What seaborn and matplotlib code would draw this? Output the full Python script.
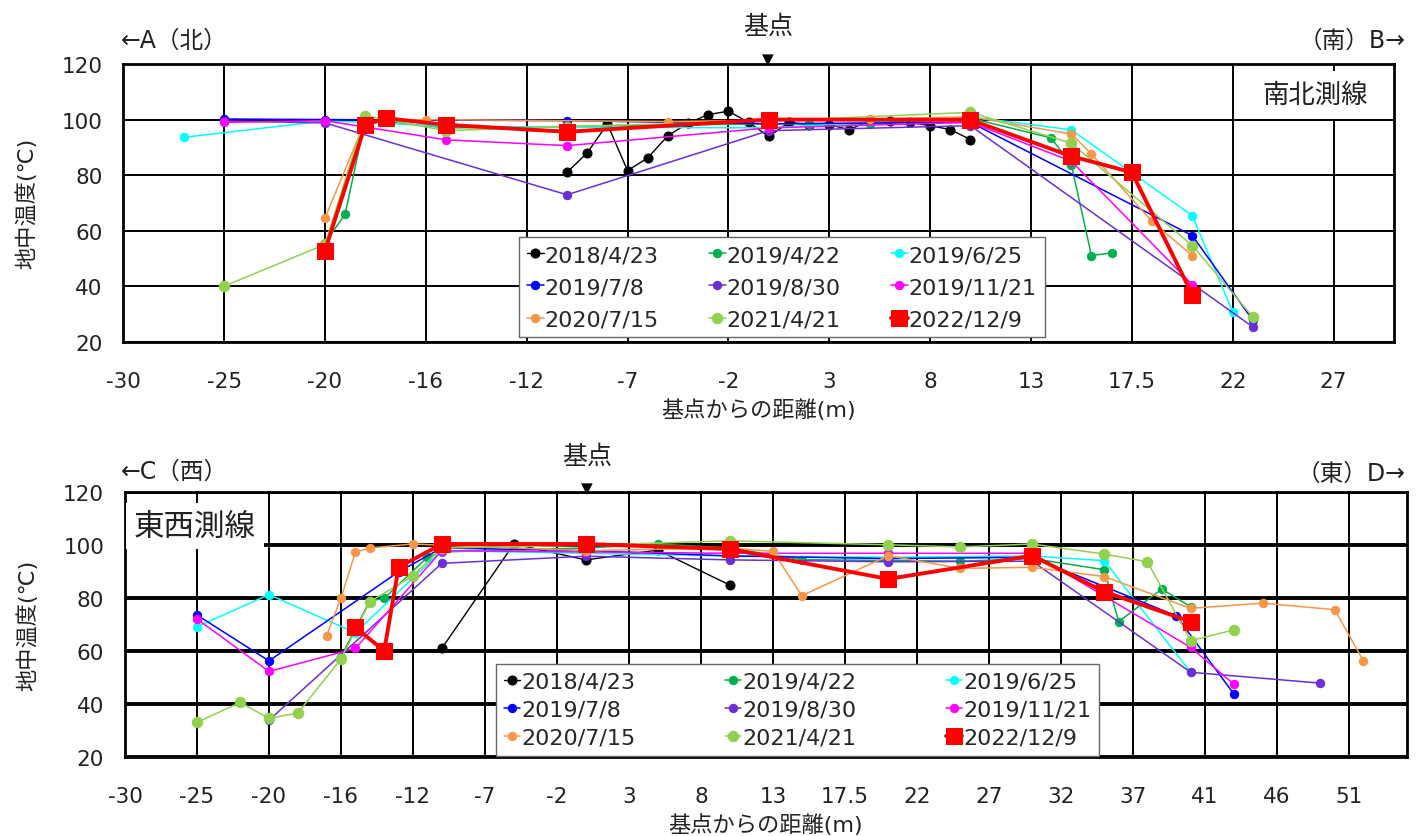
import matplotlib
matplotlib.use("Agg")
import matplotlib.pyplot as plt
import seaborn as sns

# 凡例(日付)と色
dates = ["2018/4/23", "2019/4/22", "2019/6/25", "2019/7/8", "2019/8/30",
         "2019/11/21", "2020/7/15", "2021/4/21", "2022/12/9"]
colors = ["#000000", "#00B050", "#00FFFF", "#0000FF", "#6A2FD6",
          "#FF00FF", "#F79646", "#92D050", "#FF0000"]

# 目盛りラベル (目盛り位置は 5 刻み、ラベルは図のとおり)
ns_ticklabels = ["-30", "-25", "-20", "-16", "-12", "-7", "-2", "3", "8",
                 "13", "17.5", "22", "27"]
ew_ticklabels = ["-30", "-25", "-20", "-16", "-12", "-7", "-2", "3", "8",
                 "13", "17.5", "22", "27", "32", "37", "41", "46", "51"]

# ---- 南北測線 ----
ns_2018_x = [-8, -7, -6, -5, -4, -3, -2, -1, 0, 1, 2, 3, 4, 5, 6, 7, 8, 9, 10, 11, 12]
ns_2018_t = [81.0, 88.0, 98.4, 81.6, 86.2, 94.2, 98.7, 101.8, 103.0, 99.0, 93.9,
             99.0, 98.2, 98.2, 96.3, 99.8, 99.6, 99.0, 97.8, 96.4, 92.8]
ns_1904_x = [-20, -19, -18, -14, -8, 2, 4, 7, 12, 16, 17, 18, 19]
ns_1904_t = [55.5, 66.0, 100.0, 97.0, 97.5, 98.5, 98.4, 98.4, 100.5, 93.4, 83.7, 51.0, 52.0]
ns_1906_x = [-27, -20, -18, -14, -8, 2, 12, 17, 23, 25]
ns_1906_t = [93.6, 99.5, 99.0, 97.5, 97.3, 97.0, 101.0, 96.3, 65.4, 30.7]
ns_1907_x = [-25, -20, -8, 2, 12, 23, 26]
ns_1907_t = [100.2, 100.0, 99.6, 98.5, 99.0, 58.2, 27.7]
ns_1908_x = [-25, -20, -8, 2, 12, 26]
ns_1908_t = [99.5, 98.8, 72.9, 96.0, 97.8, 25.3]
ns_1911_x = [-25, -20, -14, -8, 2, 12, 17, 23]
ns_1911_t = [99.0, 99.6, 92.7, 90.6, 97.0, 99.0, 85.0, 40.5]
ns_2020_x = [-20, -18, -15, -3, 7, 12, 17, 18, 21, 23]
ns_2020_t = [64.5, 99.5, 100.0, 99.3, 100.2, 101.0, 94.8, 87.6, 63.3, 51.0]
ns_2021_x = [-25, -20, -18, -14, -8, 2, 12, 17, 23, 26]
ns_2021_t = [40.0, 55.0, 101.4, 96.0, 97.5, 99.5, 102.6, 91.5, 54.6, 28.9]
ns_2022_x = [-20, -18, -17, -14, -8, 2, 12, 17, 20, 23]
ns_2022_t = [52.8, 98.1, 100.5, 98.1, 95.6, 100.0, 99.9, 86.8, 81.0, 36.9]

# ---- 東西測線 ----
ew_2018_x = [-8, -3, 2, 7, 12]
ew_2018_t = [61.1, 100.5, 94.5, 98.2, 85.0]
ew_1904_x = [-15, -13, -12, -9, -8, 2, 7, 12, 17, 28, 33, 38, 39, 42, 44]
ew_1904_t = [58.0, 79.0, 80.0, 95.5, 97.5, 99.0, 100.5, 99.0, 94.6, 94.0, 95.0,
             90.8, 71.2, 83.5, 76.8]
ew_1906_x = [-25, -20, -14, -8, 2, 12, 23, 33, 38, 44]
ew_1906_t = [69.3, 81.4, 67.0, 98.0, 97.0, 96.0, 95.5, 96.0, 94.2, 52.1]
ew_1907_x = [-25, -20, -11, -8, 2, 12, 23, 33, 43, 47]
ew_1907_t = [73.7, 56.4, 90.0, 99.0, 98.0, 96.0, 95.0, 95.5, 73.4, 43.9]
ew_1908_x = [-20, -8, 2, 12, 23, 33, 44, 53]
ew_1908_t = [34.0, 93.2, 95.9, 94.5, 93.8, 94.0, 52.1, 48.0]
ew_1911_x = [-25, -20, -14, -8, 2, 12, 23, 33, 44, 47]
ew_1911_t = [72.2, 52.4, 61.1, 98.0, 97.5, 97.0, 97.0, 97.0, 61.5, 47.6]
ew_2020_x = [-16, -15, -14, -13, -10, -8, 2, 12, 15, 17, 23, 28, 33, 38, 44, 49, 54, 56]
ew_2020_t = [65.9, 80.1, 97.4, 99.0, 100.5, 100.0, 98.0, 99.0, 97.7, 81.0, 96.1,
             91.3, 91.7, 88.2, 76.2, 78.2, 75.7, 56.4]
ew_2021_x = [-25, -22, -20, -18, -15, -13, -10, -8, 2, 12, 23, 28, 33, 38, 41, 44, 47]
ew_2021_t = [33.2, 40.7, 34.7, 36.7, 57.1, 78.7, 88.5, 99.0, 100.0, 101.7, 100.2,
             99.4, 100.5, 96.7, 93.8, 64.0, 68.1]
ew_2022_x = [-14, -12, -11, -8, 2, 12, 23, 33, 38, 44]
ew_2022_t = [69.0, 60.2, 91.7, 100.5, 100.5, 98.6, 87.3, 96.1, 82.5, 71.2]

ns_series = [(ns_2018_x, ns_2018_t), (ns_1904_x, ns_1904_t), (ns_1906_x, ns_1906_t),
             (ns_1907_x, ns_1907_t), (ns_1908_x, ns_1908_t), (ns_1911_x, ns_1911_t),
             (ns_2020_x, ns_2020_t), (ns_2021_x, ns_2021_t), (ns_2022_x, ns_2022_t)]
ew_series = [(ew_2018_x, ew_2018_t), (ew_1904_x, ew_1904_t), (ew_1906_x, ew_1906_t),
             (ew_1907_x, ew_1907_t), (ew_1908_x, ew_1908_t), (ew_1911_x, ew_1911_t),
             (ew_2020_x, ew_2020_t), (ew_2021_x, ew_2021_t), (ew_2022_x, ew_2022_t)]

sns.set_style("white")
plt.rcParams["font.family"] = ["DejaVu Sans", "Noto Sans CJK JP"]


def draw_lines(ax, series):
    for (x, t), date, c in zip(series, dates, colors):
        if date == "2022/12/9":
            style = dict(marker="s", markersize=12, linewidth=2.8, zorder=5)
        elif date == "2021/4/21":
            style = dict(marker="o", markersize=7.5, linewidth=1.1, zorder=3)
        elif date == "2018/4/23":
            style = dict(marker="o", markersize=6.5, linewidth=1.0, zorder=3)
        else:
            style = dict(marker="o", markersize=6, linewidth=1.1, zorder=3)
        sns.lineplot(x=x, y=t, ax=ax, color=c, markeredgecolor=c, label=date,
                     sort=False, errorbar=None, **style)


def setup_axes(ax, ticklabels, xmax, hgrid_lw):
    ticks = [-30 + 5 * i for i in range(len(ticklabels))]
    ax.set_xlim(-30, xmax)
    ax.set_ylim(20, 120)
    ax.set_xticks(ticks)
    ax.set_xticklabels(ticklabels)
    ax.set_yticks([20, 40, 60, 80, 100, 120])
    ax.tick_params(axis="both", length=0, labelsize=15.5, colors="#222222")
    ax.tick_params(axis="x", pad=21)
    ax.tick_params(axis="y", pad=15)
    ax.xaxis.grid(True, color="black", linewidth=1.4)
    ax.yaxis.grid(True, color="black", linewidth=hgrid_lw)
    ax.set_axisbelow(True)
    for s in ax.spines.values():
        s.set_color("black")
        s.set_linewidth(2.0)
    ax.set_xlabel("基点からの距離(m)", fontsize=16, labelpad=5, color="#222222")
    ax.set_ylabel("地中温度(℃)", fontsize=16, color="#222222")
    ax.yaxis.set_label_coords(-0.068, 0.5)


def add_legend(ax, anchor, colspace, labelspace):
    handles, labels = ax.get_legend_handles_labels()
    order = [0, 3, 6, 1, 4, 7, 2, 5, 8]
    leg = ax.legend([handles[i] for i in order], [labels[i] for i in order],
                    ncol=3, loc="lower left", bbox_to_anchor=anchor,
                    fontsize=16, handlelength=0.75, handletextpad=0.05,
                    columnspacing=colspace, labelspacing=labelspace,
                    borderpad=0.35, borderaxespad=0, fancybox=False,
                    framealpha=1, edgecolor="#666666", numpoints=1)
    leg.get_frame().set_linewidth(1.0)
    leg.set_zorder(10)


fig = plt.figure(figsize=(14.17, 8.37), dpi=100)
ax1 = fig.add_axes([0.0870, 0.5906, 0.8968, 0.3317])
ax2 = fig.add_axes([0.0882, 0.0940, 0.9045, 0.3166])

draw_lines(ax1, ns_series)
setup_axes(ax1, ns_ticklabels, 33.0, 1.4)
add_legend(ax1, (0.3116, 0.016), 2.25, 0.55)
ax1.text(0.938, 0.888, "南北測線", transform=ax1.transAxes, fontsize=19,
         ha="center", va="center", color="#222222", zorder=4,
         bbox=dict(facecolor="white", edgecolor="none", pad=8))

draw_lines(ax2, ew_series)
setup_axes(ax2, ew_ticklabels, 59.0, 2.8)
add_legend(ax2, (0.2895, 0.006), 4.0, 0.36)
ax2.text(0.0546, 0.873, "東西測線", transform=ax2.transAxes, fontsize=22,
         ha="center", va="center", color="#222222", zorder=4,
         bbox=dict(facecolor="white", edgecolor="none", pad=6))

W, H = 1417, 837
hdr = dict(fontsize=17, color="#222222", va="center")
fig.text(121 / W, 1 - 41 / H, "←A（北）", ha="left", **hdr)
fig.text(1405 / W, 1 - 41 / H, "（南）B→", ha="right", **hdr)
fig.text(768 / W, 1 - 27 / H, "基点", ha="center", fontsize=18, color="#222222", va="center")
fig.text(768 / W, 1 - 60 / H, "▼", ha="center", fontsize=11, va="center", color="black")
fig.text(121 / W, 1 - 472 / H, "←C（西）", ha="left", **hdr)
fig.text(1405 / W, 1 - 474 / H, "（東）D→", ha="right", **hdr)
fig.text(587 / W, 1 - 457 / H, "基点", ha="center", fontsize=18, color="#222222", va="center")
fig.text(587 / W, 1 - 489 / H, "▼", ha="center", fontsize=11, va="center", color="black")

fig.savefig("out.png", dpi=100)
